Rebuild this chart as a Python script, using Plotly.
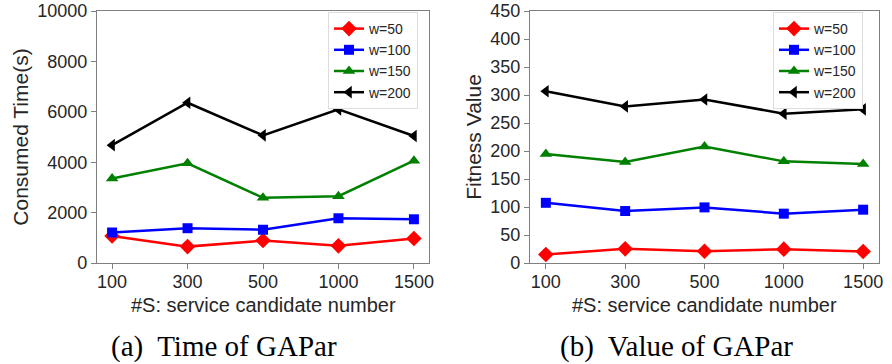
import plotly.graph_objects as go

categories = ["100", "300", "500", "1000", "1500"]
series_names = ["w=50", "w=100", "w=150", "w=200"]

time_w50 = [1070, 650, 890, 680, 970]
time_w100 = [1210, 1380, 1320, 1775, 1735]
time_w150 = [3355, 3955, 2585, 2650, 4060]
time_w200 = [4675, 6360, 5065, 6095, 5040]

fit_w50 = [15.3, 25.3, 21.1, 24.7, 20.6]
fit_w100 = [107.5, 92.8, 99.3, 88.1, 95.2]
fit_w150 = [194.5, 180.4, 208.0, 181.5, 176.8]
fit_w200 = [306.7, 279.6, 292.0, 266.7, 274.4]

time_ticks = [0, 2000, 4000, 6000, 8000, 10000]
fit_ticks = [0, 50, 100, 150, 200, 250, 300, 350, 400, 450]

colors = ["#ff0000", "#0000ff", "#008000", "#000000"]
symbols = ["diamond", "square", "triangle-up", "triangle-left"]
msizes = [12, 10, 11, 11]

fig = go.Figure()
time_data = [time_w50, time_w100, time_w150, time_w200]
fit_data = [fit_w50, fit_w100, fit_w150, fit_w200]

for i, name in enumerate(series_names):
    fig.add_trace(go.Scatter(
        x=categories, y=time_data[i], name=name, mode="lines+markers",
        line=dict(color=colors[i], width=2.5),
        marker=dict(symbol=symbols[i], size=msizes[i], color=colors[i]),
        xaxis="x", yaxis="y", legend="legend"))
for i, name in enumerate(series_names):
    fig.add_trace(go.Scatter(
        x=categories, y=fit_data[i], name=name, mode="lines+markers",
        line=dict(color=colors[i], width=2.5),
        marker=dict(symbol=symbols[i], size=msizes[i], color=colors[i]),
        xaxis="x2", yaxis="y2", legend="legend2"))

W, H = 892, 364
FONT = "Liberation Sans, Arial, sans-serif"
tickfont = dict(family=FONT, size=18, color="#262626")
axis_common = dict(showline=True, linecolor="#7f7f7f", linewidth=1.2, mirror=True,
                   showgrid=False, zeroline=False, ticks="outside", ticklen=5,
                   tickcolor="#7f7f7f", tickfont=tickfont, automargin=False,
                   ticklabeloverflow="allow")

ydom = [(H - 263) / H, (H - 11) / H]
legend_common = dict(xanchor="left", yanchor="top", bgcolor="white",
                     bordercolor="#dddddd", borderwidth=1, tracegroupgap=0,
                     font=dict(family=FONT, size=14, color="#262626"))
fig.update_layout(
    width=W, height=H, margin=dict(l=0, r=0, t=0, b=0, autoexpand=False),
    paper_bgcolor="white", plot_bgcolor="white",
    xaxis=dict(domain=[97 / W, 429 / W], type="category", range=[-0.2, 4.2], anchor="y",
               ticklabelstandoff=-3, **axis_common),
    yaxis=dict(domain=ydom, range=[0, 10000], tickvals=time_ticks,
               ticktext=[str(v) for v in time_ticks], anchor="x",
               title=dict(text="Consumed Time(s)", font=dict(family=FONT, size=21, color="#262626"), standoff=2),
               **axis_common),
    xaxis2=dict(domain=[530 / W, 879 / W], type="category", range=[-0.2, 4.2], anchor="y2",
                ticklabelstandoff=-3, **axis_common),
    yaxis2=dict(domain=ydom, range=[0, 450], tickvals=fit_ticks,
                ticktext=[str(v) for v in fit_ticks], anchor="x2",
                title=dict(text="Fitness Value", font=dict(family=FONT, size=21, color="#262626"), standoff=2),
                **axis_common),
    legend=dict(x=328 / W, y=(H - 12) / H, **legend_common),
    legend2=dict(x=773 / W, y=(H - 12) / H, **legend_common),
)

xtitle_font = dict(family=FONT, size=20, color="#262626")
cap_font = dict(family="Liberation Serif, Times New Roman, serif", size=29, color="#000000")
fig.add_annotation(text="#S: service candidate number", x=263 / W, y=(H - 305) / H,
                   xref="paper", yref="paper", showarrow=False, font=xtitle_font,
                   xanchor="center", yanchor="middle")
fig.add_annotation(text="#S: service candidate number", x=704 / W, y=(H - 305) / H,
                   xref="paper", yref="paper", showarrow=False, font=xtitle_font,
                   xanchor="center", yanchor="middle")
fig.add_annotation(text="(a)  Time of GAPar", x=224 / W, y=(H - 346) / H,
                   xref="paper", yref="paper", showarrow=False, font=cap_font,
                   xanchor="center", yanchor="middle")
fig.add_annotation(text="(b)  Value of GAPar", x=676 / W, y=(H - 346) / H,
                   xref="paper", yref="paper", showarrow=False, font=cap_font,
                   xanchor="center", yanchor="middle")

fig.write_html("out.html", config={"displayModeBar": False},
               post_script="document.body.style.margin='0';document.body.style.overflow='hidden';")
